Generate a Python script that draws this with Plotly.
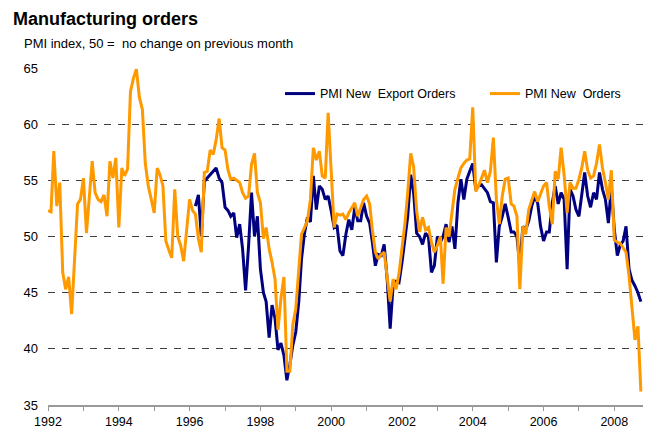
import pandas as pd
import plotly.graph_objects as go

# monthly PMI readings, Jan 1992 - Oct 2008
new_orders = [
    52.3, 52.2, 57.6, 52.7, 54.8, 46.8, 45.3, 46.4, 43.1, 48.3,
    52.9, 53.3, 55.2, 50.3, 53.5, 56.7, 53.9, 53.3, 53.1, 53.7,
    51.8, 56.7, 55.2, 57.0, 50.8, 56.1, 55.4, 56.0, 62.9, 64.1,
    64.9, 62.4, 61.3, 56.5, 54.5, 53.3, 52.1, 56.1, 55.5, 54.5,
    49.6, 48.8, 48.1, 54.2, 50.0, 49.2, 47.8, 50.5, 53.3, 52.3,
    52.0, 49.8, 48.6, 55.7, 55.8, 57.7, 57.3, 58.6, 60.5, 57.9,
    57.7, 55.9, 55.1, 55.2, 55.0, 54.8, 53.9, 53.4, 53.6, 56.4,
    57.4, 53.9, 53.0, 49.8, 50.8, 48.9, 47.7, 46.2, 41.7, 44.5,
    46.4, 38.0, 38.0, 42.1, 43.6, 47.4, 50.2, 50.8, 51.4, 53.3,
    57.9, 56.8, 57.6, 55.4, 55.2, 61.0, 55.7, 50.8, 52.0, 51.9,
    52.0, 51.5, 52.1, 52.6, 53.0, 51.8, 52.6, 53.3, 53.6, 52.9,
    50.6, 48.6, 48.0, 48.4, 48.6, 46.5, 44.2, 46.2, 45.3, 46.7,
    48.9, 51.2, 53.9, 57.4, 56.2, 52.3, 50.4, 51.7, 50.6, 50.8,
    49.5, 48.6, 49.2, 50.0, 45.8, 50.8, 50.0, 52.1, 54.2, 55.2,
    56.1, 56.5, 56.8, 56.9, 61.5, 54.0, 54.5, 55.2, 55.9, 54.8,
    55.8, 58.8, 53.3, 51.1, 53.6, 55.1, 55.2, 52.9, 52.7, 51.8,
    45.3, 50.9, 50.2, 52.4, 53.3, 54.0, 53.1, 53.8, 54.5, 54.8,
    52.7, 51.1, 55.8, 55.1, 57.9, 55.5, 52.1, 54.8, 54.3, 54.3,
    55.1, 56.2, 57.6, 55.9, 55.2, 55.4, 56.5, 58.2, 56.1, 54.8,
    53.3, 55.9, 49.7, 49.5, 49.4, 49.0, 48.6, 46.5, 43.3, 40.8,
    42.0, 36.2,
]

# monthly, Mar 1996 - Oct 2008
export_orders = [
    52.7, 53.7, 50.0, 54.9, 55.2, 55.5, 55.8, 56.1, 55.2, 54.8,
    52.6, 52.3, 51.8, 52.1, 49.9, 51.1, 48.9, 45.2, 49.2, 53.9,
    50.0, 51.8, 47.1, 45.0, 44.2, 41.0, 43.9, 42.7, 39.9, 40.5,
    39.4, 37.2, 38.6, 40.3, 41.5, 44.2, 48.0, 50.3, 51.7, 51.3,
    55.4, 52.4, 54.5, 54.2, 53.3, 53.6, 52.3, 50.8, 51.0, 48.7,
    48.3, 50.2, 51.5, 50.6, 52.6, 51.4, 51.4, 53.0, 51.8, 51.2,
    49.5, 47.4, 48.4, 48.3, 49.3, 46.2, 41.8, 45.6, 46.0, 45.9,
    47.7, 50.0, 51.8, 55.5, 53.9, 50.3, 50.0, 49.3, 50.3, 50.0,
    46.8, 47.4, 50.0, 49.5, 50.0, 51.1, 49.5, 50.9, 48.9, 53.0,
    55.1, 53.3, 55.1, 55.8, 56.5, 54.2, 54.5, 54.6, 54.2, 53.9,
    53.1, 53.0, 47.7, 50.9, 51.8, 52.9, 51.7, 50.4, 50.4, 50.0,
    47.4, 50.9, 50.6, 51.4, 52.7, 53.6, 53.0, 50.9, 49.6, 50.4,
    50.4, 53.0, 54.5, 52.9, 53.9, 53.3, 47.1, 54.2, 53.6, 52.4,
    51.8, 53.9, 55.7, 53.6, 52.6, 53.9, 53.3, 55.7, 54.2, 53.3,
    51.2, 54.5, 50.6, 48.3, 49.2, 49.6, 50.9, 47.1, 46.1, 45.6,
    45.0, 44.2,
]

years = list(range(1992, 2009))
year_labels = [str(y) if y % 2 == 0 else "" for y in years]
y_ticks = [35, 40, 45, 50, 55, 60, 65]

new_dates = pd.date_range("1992-01-01", periods=len(new_orders), freq="MS")
export_dates = pd.date_range("1996-03-01", periods=len(export_orders), freq="MS")

FONT = "Liberation Sans, Arial, sans-serif"

# the page body adds an 8px margin, so the figure is drawn 8px smaller
W, H = 643, 422

fig = go.Figure()
fig.add_trace(go.Scatter(
    x=export_dates, y=export_orders, mode="lines",
    name="PMI New\u00a0 Export Orders", legend="legend",
    line=dict(color="#000080", width=3)
))
fig.add_trace(go.Scatter(
    x=new_dates, y=new_orders, mode="lines",
    name="PMI New\u00a0 Orders", legend="legend2",
    line=dict(color="#FF9900", width=3)
))

legend_style = dict(
    orientation="h", xanchor="left", yanchor="middle", y=0.923,
    bgcolor="rgba(0,0,0,0)", borderwidth=0, font=dict(size=12.5)
)

# plot area: 595 px wide (48 -> 643 on the page), 337 px tall (68 -> 405)
fig.update_layout(
    width=W, height=H,
    margin=dict(l=40, r=8, t=60, b=25),
    paper_bgcolor="white", plot_bgcolor="white",
    font=dict(family=FONT, size=13, color="#000000"),
    title=dict(
        text="<b>Manufacturing orders</b>",
        x=5 / W, xanchor="left", y=1 - 11 / H, yanchor="middle",
        font=dict(family=FONT, size=18, color="#000000")
    ),
    showlegend=True,
    legend=dict(x=(272 - 40) / 595, **legend_style),
    legend2=dict(x=(477 - 40) / 595, **legend_style),
    annotations=[dict(
        text="PMI index, 50 =\u00a0 no change on previous month",
        xref="paper", yref="paper", x=(22 - 48) / 595, y=(405 - 44) / 337,
        xanchor="left", yanchor="middle", showarrow=False,
        font=dict(family=FONT, size=13, color="#000000")
    )],
)

fig.update_xaxes(
    range=["1992-01-01", "2008-10-23"],
    tickvals=[f"{y}-01-01" for y in years], ticktext=year_labels,
    ticks="outside", ticklen=4, tickcolor="#999999", tickwidth=1,
    showline=True, linecolor="#999999", linewidth=2,
    tickfont=dict(size=12.5),
    showgrid=False, zeroline=False, ticklabelstandoff=0, automargin=False
)
fig.update_yaxes(
    range=[35, 65], tickvals=y_ticks,
    showgrid=True, gridcolor="#404040", gridwidth=1, griddash="7px,7px",
    showline=False, zeroline=False, ticks="", ticklabelstandoff=9,
    automargin=False
)

fig.write_html("out.html")
